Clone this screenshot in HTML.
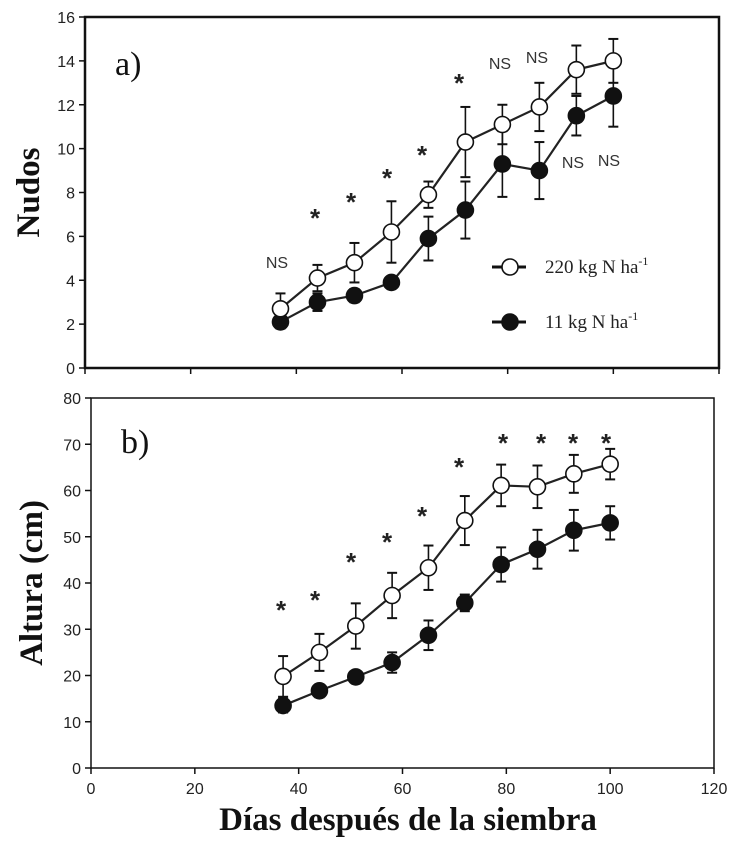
<!DOCTYPE html>
<html><head><meta charset="utf-8"><style>
body{margin:0;background:#fff}
svg{display:block}
.tk{font-family:"Liberation Sans Narrow","Liberation Sans",sans-serif;font-size:16px;fill:#222}
.an{font-family:"Liberation Sans",sans-serif;font-size:16px;fill:#333}
.st{font-family:"Liberation Sans",sans-serif;font-size:26px;font-weight:bold;fill:#222}
.ttl{font-family:"Liberation Serif",serif;font-weight:bold;fill:#111}
</style></head><body>
<svg id="c" width="735" height="847" viewBox="0 0 735 847"></svg>
<script>
const days=[37,44,51,58,65,72,79,86,93,100];
const nudosHigh=[2.7,4.1,4.8,6.2,7.9,10.3,11.1,11.9,13.6,14.0];
const nudosHighErr=[0.7,0.6,0.9,1.4,0.6,1.6,0.9,1.1,1.1,1.0];
const nudosLow=[2.1,3.0,3.3,3.9,5.9,7.2,9.3,9.0,11.5,12.4];
const nudosLowErr=[0.3,0.4,0.3,0.2,1.0,1.3,1.5,1.3,0.9,1.4];
const alturaHigh=[19.8,25.0,30.7,37.3,43.3,53.5,61.1,60.8,63.6,65.7];
const alturaHighErr=[4.4,4.0,4.9,4.9,4.8,5.3,4.5,4.6,4.1,3.3];
const alturaLow=[13.5,16.7,19.7,22.8,28.7,35.7,44.0,47.3,51.4,53.0];
const alturaLowErr=[1.5,1.4,1.0,2.2,3.2,1.8,3.7,4.2,4.4,3.6];
const xTicks=[0,20,40,60,80,100,120];
const nudosTicks=[0,2,4,6,8,10,12,14,16];
const alturaTicks=[0,10,20,30,40,50,60,70,80];
const nudosSig=["NS","*","*","*","*","*","NS","NS","NS","NS"];
const alturaSig=["*","*","*","*","*","*","*","*","*","*"];

const svg=document.getElementById('c');
const NS='http://www.w3.org/2000/svg';
function el(t,a,p){const e=document.createElementNS(NS,t);for(const k in a)e.setAttribute(k,a[k]);(p||svg).appendChild(e);return e;}

function panel(cfg){
  const g=el('g',{});
  
  
  const X=v=>cfg.x0+(v-0)/120*(cfg.x1-cfg.x0);
  const Y=v=>cfg.y0-(v/cfg.ymax)*(cfg.y0-cfg.y1);
  const fr=el('rect',{x:cfg.x0,y:cfg.y1,width:cfg.x1-cfg.x0,height:cfg.y0-cfg.y1,fill:'none',stroke:'#111','stroke-width':cfg.sw},g);
  
  
  cfg.yt.forEach(v=>{
    el('line',{x1:cfg.x0-6,x2:cfg.x0,y1:Y(v),y2:Y(v),stroke:'#111','stroke-width':1.5},g);
    const t=el('text',{x:cfg.x0-10,y:Y(v)+6,'text-anchor':'end',class:'tk'},g);t.textContent=v;
    
    
  });
  xTicks.forEach(v=>{
    el('line',{x1:X(v),x2:X(v),y1:cfg.y0,y2:cfg.y0+6,stroke:'#111','stroke-width':1.5},g);
    if(cfg.xlabels){const t=el('text',{x:X(v),y:cfg.y0+26,'text-anchor':'middle',class:'tk'},g);t.textContent=v;
      
      }
  });
  [[cfg.low,cfg.lowErr,'#111','series-11-kg'],[cfg.high,cfg.highErr,'#fff','series-220-kg']].forEach(([vals,err,fill,nm])=>{
    const sg=el('g',{},g);
    
    
    vals.forEach((v,i)=>{
      const x=X(days[i]);
      el('line',{x1:x,x2:x,y1:Y(v-err[i]),y2:Y(v+err[i]),stroke:'#111','stroke-width':1.6},sg);
      el('line',{x1:x-5,x2:x+5,y1:Y(v+err[i]),y2:Y(v+err[i]),stroke:'#111','stroke-width':2},sg);
      el('line',{x1:x-5,x2:x+5,y1:Y(v-err[i]),y2:Y(v-err[i]),stroke:'#111','stroke-width':2},sg);
    });
    el('polyline',{points:vals.map((v,i)=>X(days[i])+','+Y(v)).join(' '),fill:'none',stroke:'#222','stroke-width':2.2},sg);
    vals.forEach((v,i)=>{
      const c=el('circle',{cx:X(days[i]),cy:Y(v),r:8,fill:fill,stroke:'#111','stroke-width':1.6},sg);
      
      
    });
  });
  cfg.ann.forEach((a,i)=>{
    const isStar=cfg.sig[i]==='*';
    const t=el('text',{x:a[0],y:a[1]+(isStar?2:0),'text-anchor':'middle',class:isStar?'st':'an'},g);
    t.textContent=cfg.sig[i];
    
    
  });
  const pl=el('text',{x:cfg.x0+30,y:cfg.plY,class:'ttl',style:'font-weight:normal;font-size:34px'},g);pl.textContent=cfg.pl;
  
  
  const yt=el('text',{x:0,y:0,transform:`translate(${cfg.ytX},${(cfg.y0+cfg.y1)/2}) rotate(-90)`,'text-anchor':'middle',class:'ttl',style:'font-size:33px'},g);
  yt.textContent=cfg.ytitle;
  
  
}

panel({name:'panel-a-nudos',x0:85,x1:719,y0:368,y1:17,ymax:16,sw:2.5,yt:nudosTicks,xlabels:false,
  high:nudosHigh,highErr:nudosHighErr,low:nudosLow,lowErr:nudosLowErr,sig:nudosSig,
  ann:[[277,268],[315,225],[351,209],[387,185],[422,162],[459,90],[500,69],[537,63],[573,168],[609,166]],
  pl:'a)',plY:75,ytitle:'Nudos',ytX:39});
panel({name:'panel-b-altura',x0:91,x1:714,y0:768,y1:398,ymax:80,sw:1.5,yt:alturaTicks,xlabels:true,
  high:alturaHigh,highErr:alturaHighErr,low:alturaLow,lowErr:alturaLowErr,sig:alturaSig,
  ann:[[281,617],[315,607],[351,569],[387,549],[422,523],[459,474],[503,450],[541,450],[573,450],[606,450]],
  pl:'b)',plY:453,ytitle:'Altura (cm)',ytX:42});

// legend
const lg=el('g',{});


[[267,'#fff','220 kg N ha'],[322,'#111','11 kg N ha']].forEach(([y,f,txt])=>{
  const e=el('g',{},lg);
  
  
  el('line',{x1:492,x2:526,y1:y,y2:y,stroke:'#111','stroke-width':3},e);
  el('circle',{cx:510,cy:y,r:8,fill:f,stroke:'#111','stroke-width':1.6},e);
  const t=el('text',{x:545,y:y+6,style:'font-family:"Liberation Serif",serif;font-size:19px;fill:#222'},e);
  t.textContent=txt;
  const s=el('tspan',{dy:-8,style:'font-size:12px'},t);s.textContent='-1';
});
const xt=el('text',{x:408,y:830,'text-anchor':'middle',class:'ttl',style:'font-size:33px'});
xt.textContent='Días después de la siembra';


</script>
</body></html>
